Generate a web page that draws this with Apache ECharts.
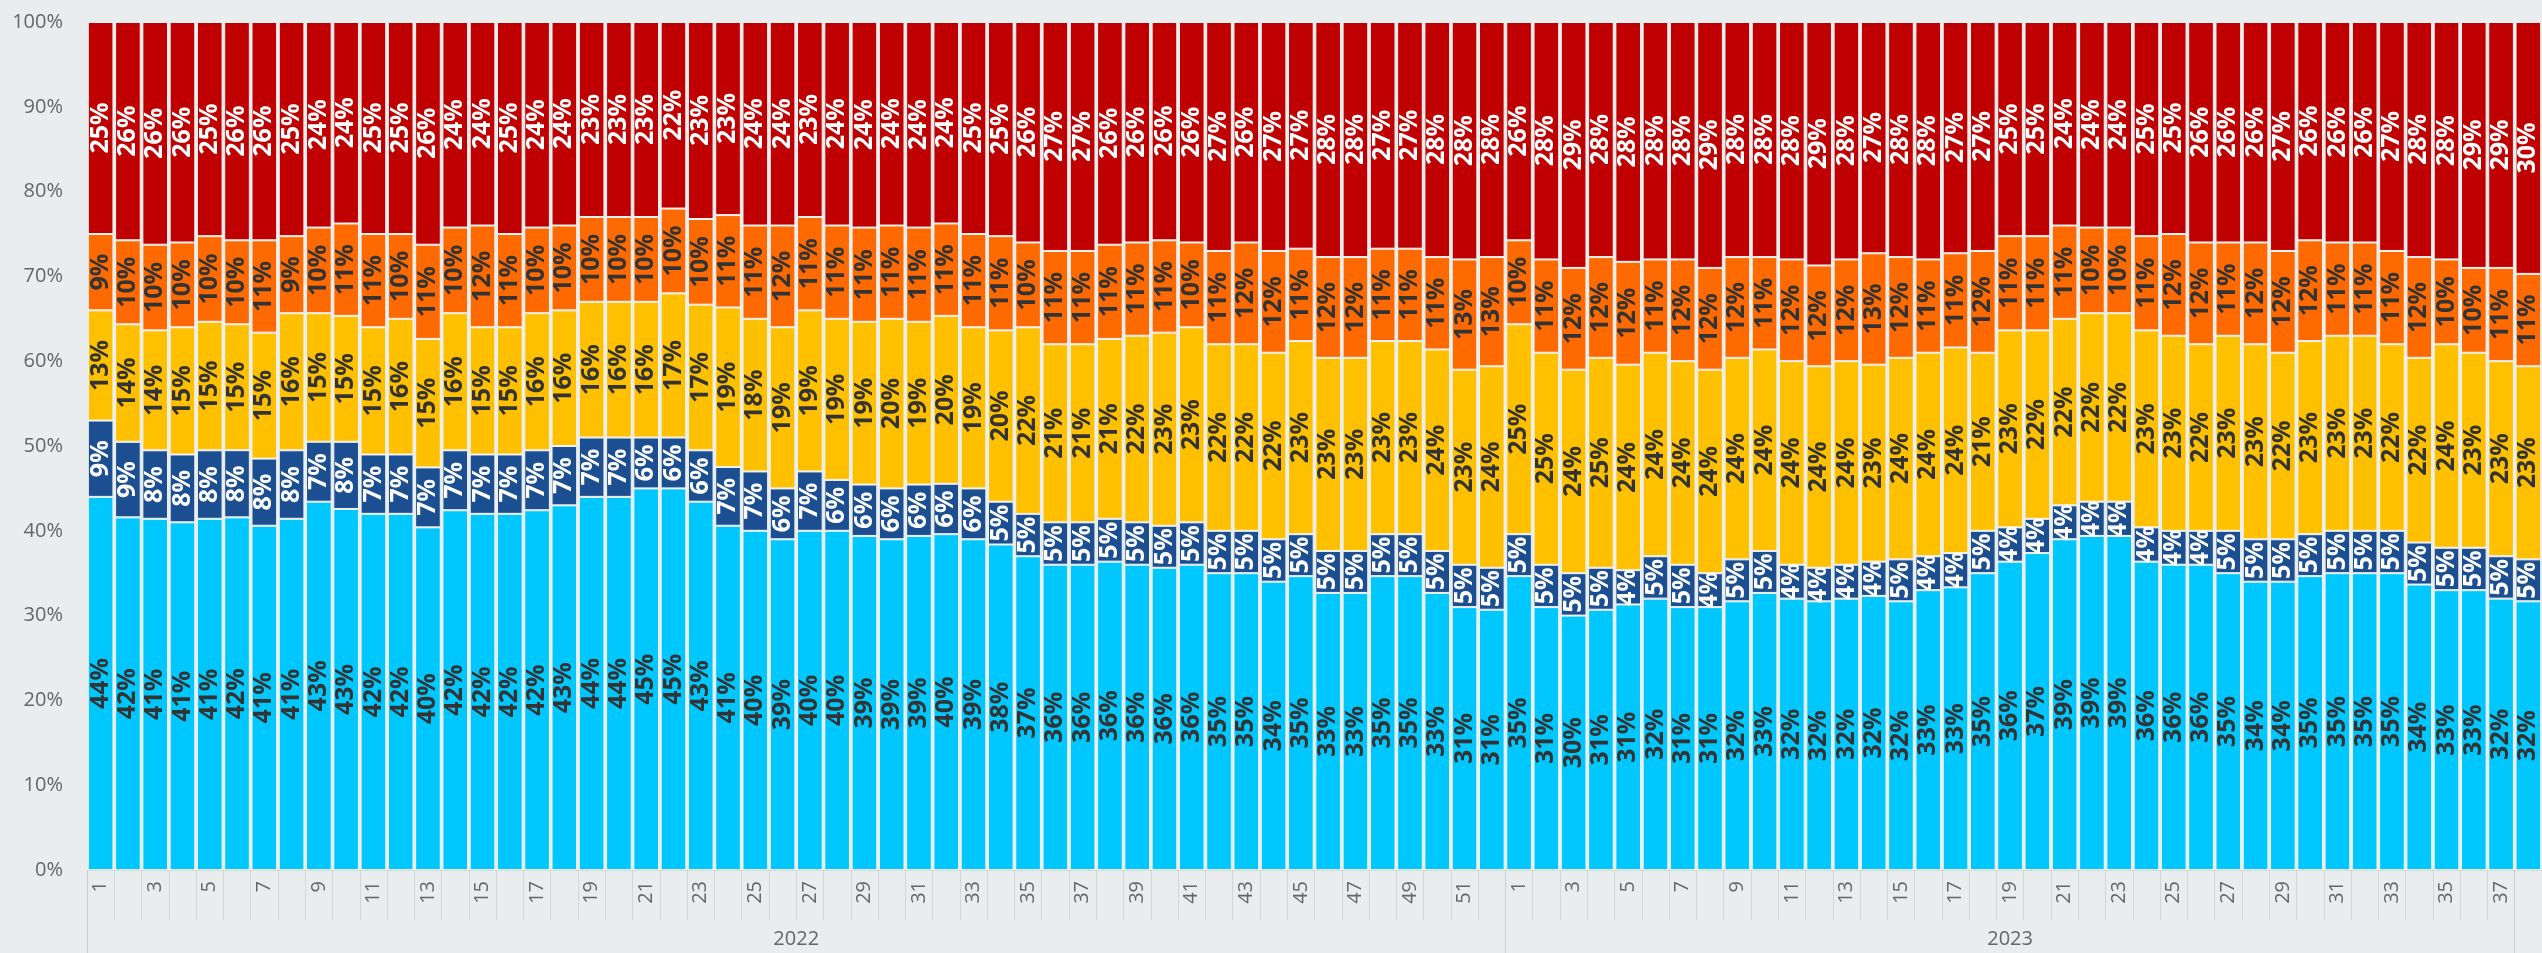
<!DOCTYPE html>
<html>
<head>
<meta charset="utf-8">
<title>Weekly share 2022-2023</title>
<script src="https://cdn.jsdelivr.net/npm/echarts@6.0.0/dist/echarts.min.js"></script>
<style>
  html, body { margin: 0; padding: 0; background: #e9eded; }
  #chart { width: 2542px; height: 953px; }
</style>
</head>
<body>
<div id="chart"></div>
<script>
// week numbers per year
const weeks2022 = [1, 2, 3, 4, 5, 6, 7, 8, 9, 10, 11, 12, 13, 14, 15, 16, 17, 18, 19, 20, 21, 22, 23, 24, 25, 26,
    27, 28, 29, 30, 31, 32, 33, 34, 35, 36, 37, 38, 39, 40, 41, 42, 43, 44, 45, 46, 47, 48, 49, 50, 51, 52]
const weeks2023 = [1, 2, 3, 4, 5, 6, 7, 8, 9, 10, 11, 12, 13, 14, 15, 16, 17, 18, 19,
    20, 21, 22, 23, 24, 25, 26, 27, 28, 29, 30, 31, 32, 33, 34, 35, 36, 37, 38]
const years = ['2022', '2023']

// shares in %, bottom to top
const lightBlue = [44, 42, 41, 41, 41, 42, 41, 41, 43, 43, 42, 42, 40, 42, 42, 42, 42, 43,
    44, 44, 45, 45, 43, 41, 40, 39, 40, 40, 39, 39, 39, 40, 39, 38, 37, 36,
    36, 36, 36, 36, 36, 35, 35, 34, 35, 33, 33, 35, 35, 33, 31, 31, 35, 31,
    30, 31, 31, 32, 31, 31, 32, 33, 32, 32, 32, 32, 32, 33, 33, 35, 36, 37,
    39, 39, 39, 36, 36, 36, 35, 34, 34, 35, 35, 35, 35, 34, 33, 33, 32, 32]
const darkBlue = [9, 9, 8, 8, 8, 8, 8, 8, 7, 8, 7, 7, 7, 7, 7, 7, 7, 7,
    7, 7, 6, 6, 6, 7, 7, 6, 7, 6, 6, 6, 6, 6, 6, 5, 5, 5,
    5, 5, 5, 5, 5, 5, 5, 5, 5, 5, 5, 5, 5, 5, 5, 5, 5, 5,
    5, 5, 4, 5, 5, 4, 5, 5, 4, 4, 4, 4, 5, 4, 4, 5, 4, 4,
    4, 4, 4, 4, 4, 4, 5, 5, 5, 5, 5, 5, 5, 5, 5, 5, 5, 5]
const yellow = [13, 14, 14, 15, 15, 15, 15, 16, 15, 15, 15, 16, 15, 16, 15, 15, 16, 16,
    16, 16, 16, 17, 17, 19, 18, 19, 19, 19, 19, 20, 19, 20, 19, 20, 22, 21,
    21, 21, 22, 23, 23, 22, 22, 22, 23, 23, 23, 23, 23, 24, 23, 24, 25, 25,
    24, 25, 24, 24, 24, 24, 24, 24, 24, 24, 24, 23, 24, 24, 24, 21, 23, 22,
    22, 22, 22, 23, 23, 22, 23, 23, 22, 23, 23, 23, 22, 22, 24, 23, 23, 23]
const orange = [9, 10, 10, 10, 10, 10, 11, 9, 10, 11, 11, 10, 11, 10, 12, 11, 10, 10,
    10, 10, 10, 10, 10, 11, 11, 12, 11, 11, 11, 11, 11, 11, 11, 11, 10, 11,
    11, 11, 11, 11, 10, 11, 12, 12, 11, 12, 12, 11, 11, 11, 13, 13, 10, 11,
    12, 12, 12, 11, 12, 12, 12, 11, 12, 12, 12, 13, 12, 11, 11, 12, 11, 11,
    11, 10, 10, 11, 12, 12, 11, 12, 12, 12, 11, 11, 11, 12, 10, 10, 11, 11]
const red = [25, 26, 26, 26, 25, 26, 26, 25, 24, 24, 25, 25, 26, 24, 24, 25, 24, 24,
    23, 23, 23, 22, 23, 23, 24, 24, 23, 24, 24, 24, 24, 24, 25, 25, 26, 27,
    27, 26, 26, 26, 26, 27, 26, 27, 27, 28, 28, 27, 27, 28, 28, 28, 26, 28,
    29, 28, 28, 28, 28, 29, 28, 28, 28, 29, 28, 27, 28, 28, 27, 27, 25, 25,
    24, 24, 24, 25, 25, 26, 26, 26, 27, 26, 26, 26, 27, 28, 28, 29, 29, 30]

const chart = echarts.init(document.getElementById('chart'))

// unique keys for the category axis, label shows only the week
const categories = weeks2022.map(w => years[0] + '|' + w)
    .concat(weeks2023.map(w => years[1] + '|' + w))

const layers = [
    { name: 'lightBlue', data: lightBlue, color: '#00c8ff', text: '#333333' },
    { name: 'darkBlue', data: darkBlue, color: '#1c4f91', text: '#ffffff' },
    { name: 'yellow', data: yellow, color: '#ffc000', text: '#333333' },
    { name: 'orange', data: orange, color: '#ff6a00', text: '#333333' },
    { name: 'red', data: red, color: '#c00000', text: '#ffffff' },
]

// rounded shares do not always add up to 100, scale each week to 100
const totals = categories.map((c, i) => layers.reduce((s, l) => s + l.data[i], 0))

const series = layers.map(l => ({
    name: l.name,
    type: 'bar',
    stack: 'share',
    barCategoryGap: '6%',
    data: l.data.map((v, i) => v / totals[i] * 100),
    itemStyle: {
        color: l.color,
        borderColor: '#f1f4f4',
        borderWidth: 1
    },
    label: {
        show: true,
        position: 'inside',
        rotate: 90,
        color: l.text,
        fontFamily: 'Open Sans',
        fontWeight: 'bold',
        fontSize: 25,
        formatter: p => l.data[p.dataIndex] + '%'
    },
    emphasis: { disabled: true }
}))

const option = {
    backgroundColor: '#e9eded',
    animation: false,
    grid: {
        left: 87,
        right: 0,
        top: 22,
        bottom: 83
    },
    xAxis: [{
        type: 'category',
        data: categories,
        axisLine: { show: true, lineStyle: { color: '#d6d9d9' } },
        axisTick: { show: true, interval: 0, length: 50, lineStyle: { color: '#d2d6d6' } },
        axisLabel: {
            interval: 1,
            rotate: 90,
            margin: 11,
            fontFamily: 'Open Sans',
            fontSize: 20,
            color: '#666666',
            formatter: v => v.split('|')[1]
        }
    }, {
        // year level of the axis
        type: 'value',
        min: 0,
        max: categories.length,
        position: 'bottom',
        axisLine: { show: false },
        splitLine: { show: false },
        axisTick: {
            show: true,
            customValues: [0, weeks2022.length, categories.length - 1],
            length: 83,
            lineStyle: { color: '#c9cdcd' }
        },
        axisLabel: {
            show: true,
            customValues: [weeks2022.length / 2, (weeks2022.length + categories.length - 1) / 2],
            margin: 59,
            fontFamily: 'Open Sans',
            fontSize: 20,
            color: '#666666',
            formatter: v => v < weeks2022.length ? years[0] : years[1]
        }
    }],
    yAxis: {
        type: 'value',
        min: 0,
        max: 100,
        interval: 10,
        axisLine: { show: false },
        axisTick: { show: false },
        splitLine: { show: false },
        axisLabel: {
            margin: 24,
            fontFamily: 'Open Sans',
            fontSize: 20,
            color: '#666666',
            formatter: '{value}%'
        }
    },
    series: series
}

chart.setOption(option)
</script>
</body>
</html>
